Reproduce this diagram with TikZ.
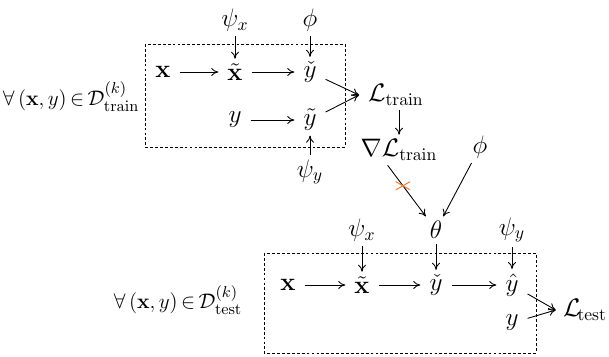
\documentclass[tikz,border=0pt]{standalone}
\usepackage{amsmath,amssymb}
\usepackage{xcolor}
\usepackage{tikz}
\usetikzlibrary{arrows.meta,calc}
\definecolor{mCut}{HTML}{F07F3C}

\begin{document}
\begin{tikzpicture}[x=0.02cm, y=-0.02cm, font=\fontsize{14}{17}\selectfont, inner xsep=5pt, inner ysep=2.5pt,
  flow/.style={-{To[length=4pt,width=4.5pt]}, line width=0.5pt},
  loop/.style={draw, line width=0.5pt, dash pattern=on 1.6pt off 1.2pt},
  setlabel/.style={font=\fontsize{12.5}{15}\selectfont, inner sep=0pt}]
\useasboundingbox (0,0) rectangle (609,356);
% training loop
\draw[loop] (145,44) rectangle (345,147);
\node[setlabel] (alltrain) at (71,97) {$\thickmuskip=3mu\forall\,(\mathbf{x},y)\in\mathcal{D}^{(k)}_{\mathrm{train}}$};
\node (psixa) at (235,20) {$\psi_x$};
\node (phia) at (310,20) {$\phi$};
\node (xa) at (163,72) {$\mathbf{x}$};
\node (xta) at (235,72) {$\tilde{\mathbf{x}}$};
\node (yca) at (310,72) {$\check{y}$};
\node (ya) at (235,120) {$y$};
\node (yta) at (310,120) {$\tilde{y}$};
\node (psiya) at (310,172) {$\psi_y$};
\node[anchor=west] (ltrain) at (359,95) {$\mathcal{L}_{\mathrm{train}}$};
\node (grad) at (399,150) {$\nabla\mathcal{L}_{\mathrm{train}}$};
\node (phib) at (480,147) {$\phi$};
\draw[flow] (xa) -- (xta);
\draw[flow] (xta) -- (yca);
\draw[flow] (ya) -- (yta);
\draw[flow] (psixa) -- (xta);
\draw[flow] (phia) -- (yca);
\draw[flow] (psiya) -- (yta);
\draw[flow] (yca) -- (ltrain.west);
\draw[flow] (yta) -- (ltrain.west);
\draw[flow] (ltrain.south -| grad.north) -- (grad);
% test loop
\node (theta) at (436,230) {$\theta$};
\draw[flow] ($(grad.south west)!0.38!(grad.south east)$) -- coordinate[pos=0.4] (cut) (theta);
\draw[flow] (phib) -- (theta);
\draw[mCut, line width=0.6pt] ($(cut)+(-7,-4)$) -- ($(cut)+(7,4)$) ($(cut)+(-7,4)$) -- ($(cut)+(7,-4)$);
\draw[loop] (264,253) rectangle (536,353);
\node[setlabel] (alltest) at (178,300) {$\thickmuskip=3mu\forall\,(\mathbf{x},y)\in\mathcal{D}^{(k)}_{\mathrm{test}}$};
\node (psixb) at (362,230) {$\psi_x$};
\node (psiyb) at (512,230) {$\psi_y$};
\node (xb) at (288,285) {$\mathbf{x}$};
\node (xtb) at (362,285) {$\tilde{\mathbf{x}}$};
\node (ycb) at (436,285) {$\check{y}$};
\node (yhb) at (512,285) {$\hat{y}$};
\node (yb) at (512,323) {$y$};
\node[anchor=east, inner xsep=1pt] (ltest) at (609,310) {$\mathcal{L}_{\!\mathrm{test}}$};
\draw[flow] (xb) -- (xtb);
\draw[flow] (xtb) -- (ycb);
\draw[flow] (ycb) -- (yhb);
\draw[flow] (psixb) -- (xtb);
\draw[flow] (theta) -- (ycb);
\draw[flow] (psiyb) -- (yhb);
\draw[flow] (yhb) -- ([xshift=-3pt]ltest.west);
\draw[flow] (yb) -- ([xshift=-3pt]ltest.west);
\end{tikzpicture}
\end{document}
